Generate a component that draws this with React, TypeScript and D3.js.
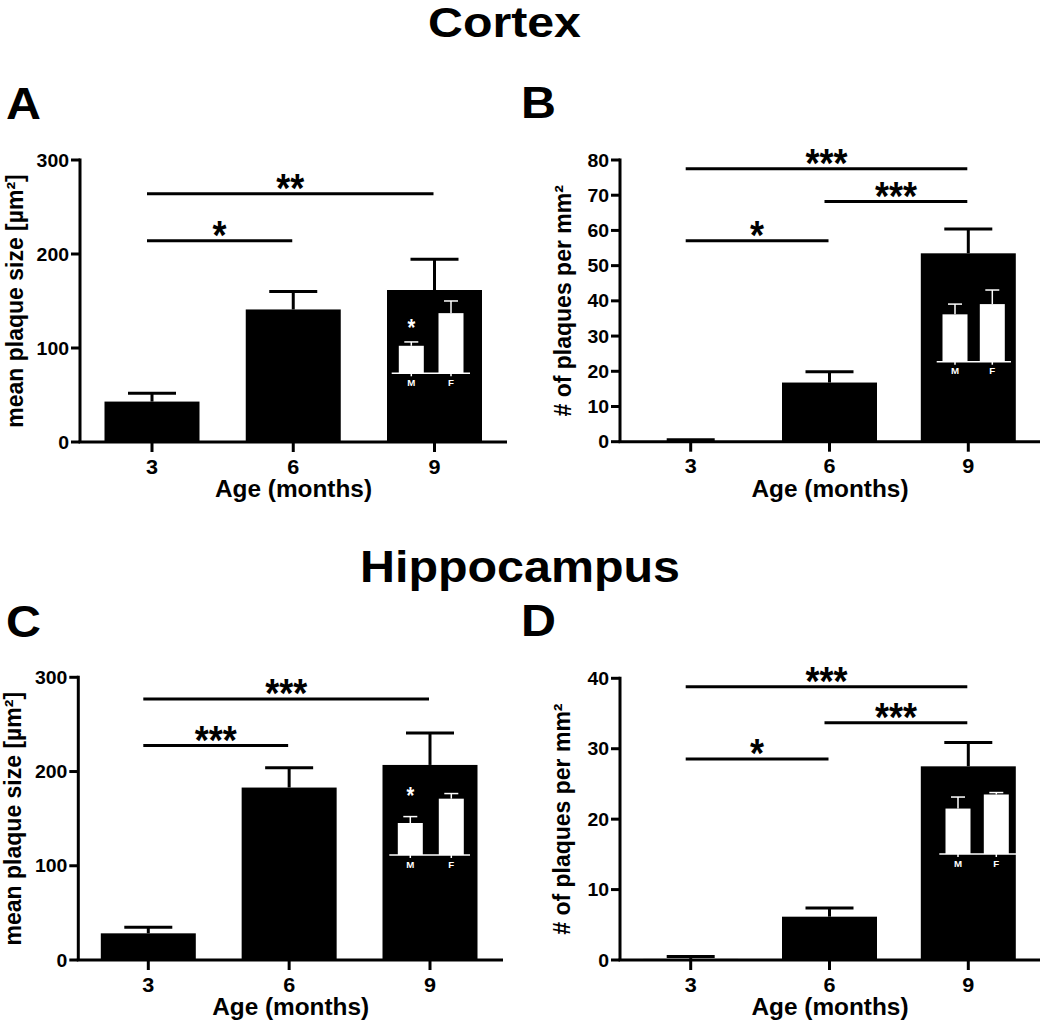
import React from 'react';
import * as d3 from 'd3';

// ---------- DATA ----------
const ages = ['3', '6', '9'];
const sexes = ['M', 'F'];

// Panel A: Cortex, mean plaque size [µm²]
const cortexSizeMean = [43, 141, 161.7];
const cortexSizeErr = [8.8, 19, 32.7];
const cortexSizeSig = [
  { from: '3', to: '6', level: 214, label: '*' },
  { from: '3', to: '9', level: 264, label: '**' },
];
const cortexSizeSexMean = [43, 94]; // relative units (inset has no axis)
const cortexSizeSexErr = [6, 19];
const cortexSizeSexStar = 75;

// Panel B: Cortex, # of plaques per mm²
const cortexCountMean = [0.2, 16.8, 53.5];
const cortexCountErr = [0.35, 3.1, 6.9];
const cortexCountSig = [
  { from: '3', to: '6', level: 57.1, label: '*' },
  { from: '6', to: '9', level: 68.2, label: '***' },
  { from: '3', to: '9', level: 77.5, label: '***' },
];
const cortexCountSexMean = [74, 90];
const cortexCountSexErr = [16, 22];

// Panel C: Hippocampus, mean plaque size [µm²]
const hippoSizeMean = [28.3, 183, 207];
const hippoSizeErr = [6.4, 21, 34];
const hippoSizeSig = [
  { from: '3', to: '6', level: 227.5, label: '***' },
  { from: '3', to: '9', level: 277, label: '***' },
];
const hippoSizeSexMean = [50, 88];
const hippoSizeSexErr = [10, 8];
const hippoSizeSexStar = 97;

// Panel D: Hippocampus, # of plaques per mm²
const hippoCountMean = [0.15, 6.15, 27.5];
const hippoCountErr = [0.35, 1.25, 3.4];
const hippoCountSig = [
  { from: '3', to: '6', level: 28.55, label: '*' },
  { from: '6', to: '9', level: 33.7, label: '***' },
  { from: '3', to: '9', level: 38.8, label: '***' },
];
const hippoCountSexMean = [71, 93];
const hippoCountSexErr = [18, 3];

const sizeTicks = [0, 100, 200, 300];
const cortexCountTicks = [0, 10, 20, 30, 40, 50, 60, 70, 80];
const hippoCountTicks = [0, 10, 20, 30, 40];

// ---------- LAYOUT ----------
const FONT = "'Liberation Sans', Arial, Helvetica, sans-serif";
const SX = 1.08;

type Sig = { from: string; to: string; level: number; label: string };

type PanelCfg = {
  letter: string; letterX: number; letterY: number;
  axisX: number; yBottom: number; yTop: number; xEnd: number;
  xRange: [number, number]; yMax: number; ticks: number[];
  yTitle: string; yTitleX: number;
  mean: number[]; err: number[]; sig: Sig[];
  inset: { lineX: [number, number]; centers: [number, number]; base: number;
    mean: number[]; err: number[]; star?: number };
};

const panels: PanelCfg[] = [
  {
    letter: 'A', letterX: 6, letterY: 119,
    axisX: 80, yBottom: 442, yTop: 160, xEnd: 507, xRange: [152, 434.5], yMax: 300, ticks: sizeTicks,
    yTitle: 'mean plaque size [µm²]', yTitleX: 23,
    mean: cortexSizeMean, err: cortexSizeErr, sig: cortexSizeSig,
    inset: { lineX: [391.7, 470], centers: [411.3, 451], base: 373.3,
      mean: cortexSizeSexMean, err: cortexSizeSexErr, star: cortexSizeSexStar },
  },
  {
    letter: 'B', letterX: 521, letterY: 118,
    axisX: 620, yBottom: 441.7, yTop: 160, xEnd: 1040, xRange: [690.7, 968.3], yMax: 80, ticks: cortexCountTicks,
    yTitle: '# of plaques per mm²', yTitleX: 571,
    mean: cortexCountMean, err: cortexCountErr, sig: cortexCountSig,
    inset: { lineX: [936.7, 1011], centers: [955, 992.3], base: 361.7,
      mean: cortexCountSexMean, err: cortexCountSexErr },
  },
  {
    letter: 'C', letterX: 6, letterY: 637,
    axisX: 78.3, yBottom: 960, yTop: 677.3, xEnd: 503, xRange: [148.3, 430], yMax: 300, ticks: sizeTicks,
    yTitle: 'mean plaque size [µm²]', yTitleX: 21,
    mean: hippoSizeMean, err: hippoSizeErr, sig: hippoSizeSig,
    inset: { lineX: [389.3, 470], centers: [410.3, 451.3], base: 855,
      mean: hippoSizeSexMean, err: hippoSizeSexErr, star: hippoSizeSexStar },
  },
  {
    letter: 'D', letterX: 521, letterY: 636,
    axisX: 620, yBottom: 960, yTop: 678.3, xEnd: 1040, xRange: [690.7, 968.3], yMax: 40, ticks: hippoCountTicks,
    yTitle: '# of plaques per mm²', yTitleX: 570,
    mean: hippoCountMean, err: hippoCountErr, sig: hippoCountSig,
    inset: { lineX: [939.3, 1016], centers: [958, 996.3], base: 854,
      mean: hippoCountSexMean, err: hippoCountSexErr },
  },
];

function T({ x, y, size, anchor = 'middle', fill = '#000', sx = SX, sy = 1, children }: any) {
  return (
    <text transform={`translate(${x},${y}) scale(${sx},${sy})`} fontSize={size} textAnchor={anchor}
      fill={fill} fontWeight="bold" fontFamily={FONT}>{children}</text>
  );
}

function Panel({ p }: { p: PanelCfg }) {
  const x = d3.scalePoint<string>().domain(ages).range(p.xRange);
  const y = d3.scaleLinear().domain([0, p.yMax]).range([p.yBottom, p.yTop]);
  const barW = 95;
  const capHalf = 24;
  const ix = d3.scalePoint<string>().domain(sexes).range(p.inset.centers);
  const iy = d3.scaleLinear().domain([0, 100]).range([p.inset.base, p.inset.base - 64]);
  const iBarW = 25;
  const iCap = 7;
  const xMid = (p.axisX + p.xEnd) / 2;
  return (
    <g>
      <T x={p.letterX} y={p.letterY} size={44} anchor="start" sx={1.1}>{p.letter}</T>
      {/* bars */}
      {ages.map((a, i) => {
        const cx = x(a)!;
        const top = y(p.mean[i]);
        const et = y(p.mean[i] + p.err[i]);
        return (
          <g key={a}>
            <rect x={cx - barW / 2} y={top} width={barW} height={p.yBottom - top} fill="#000" />
            <line x1={cx} x2={cx} y1={top} y2={et} stroke="#000" strokeWidth={3} />
            <line x1={cx - capHalf} x2={cx + capHalf} y1={et} y2={et} stroke="#000" strokeWidth={3} />
          </g>
        );
      })}
      {/* inset */}
      <line x1={p.inset.lineX[0]} x2={p.inset.lineX[1]} y1={p.inset.base} y2={p.inset.base}
        stroke="#fff" strokeWidth={1.5} />
      {sexes.map((s, i) => {
        const cx = ix(s)!;
        const top = iy(p.inset.mean[i]);
        const et = iy(p.inset.mean[i] + p.inset.err[i]);
        return (
          <g key={s}>
            <rect x={cx - iBarW / 2} y={top} width={iBarW} height={p.inset.base - top} fill="#fff" />
            <line x1={cx} x2={cx} y1={top} y2={et} stroke="#fff" strokeWidth={1.5} />
            <line x1={cx - iCap} x2={cx + iCap} y1={et} y2={et} stroke="#fff" strokeWidth={1.5} />
            <line x1={cx} x2={cx} y1={p.inset.base} y2={p.inset.base + 3} stroke="#fff" strokeWidth={1.5} />
            <T x={cx} y={p.inset.base + 12.5} size={9} fill="#fff">{s}</T>
          </g>
        );
      })}
      {p.inset.star !== undefined && (
        <T x={ix('M')!} y={iy(p.inset.star) + 11} size={20} sx={1} sy={1.2} fill="#fff">*</T>
      )}
      {/* axes */}
      <line x1={p.axisX} x2={p.axisX} y1={p.yTop - 1.5} y2={p.yBottom} stroke="#000" strokeWidth={3} />
      <line x1={p.axisX - 1.5} x2={p.xEnd} y1={p.yBottom} y2={p.yBottom} stroke="#000" strokeWidth={3} />
      {p.ticks.map((t) => (
        <g key={t}>
          <line x1={p.axisX - 9} x2={p.axisX} y1={y(t)} y2={y(t)} stroke="#000" strokeWidth={3} />
          <T x={p.axisX - 11} y={y(t) + 6.5} size={18} anchor="end">{t}</T>
        </g>
      ))}
      {ages.map((a) => (
        <g key={a}>
          <line x1={x(a)!} x2={x(a)!} y1={p.yBottom} y2={p.yBottom + 10} stroke="#000" strokeWidth={3} />
          <T x={x(a)!} y={p.yBottom + 31.5} size={20}>{a}</T>
        </g>
      ))}
      <T x={xMid} y={p.yBottom + 55} size={23} sx={1.06}>Age (months)</T>
      <text transform={`translate(${p.yTitleX},${(p.yTop + p.yBottom) / 2}) rotate(-90)`}
        fontSize={23} fontWeight="bold" fontFamily={FONT} textAnchor="middle">{p.yTitle}</text>
      {/* significance */}
      {p.sig.map((s, i) => {
        const x1 = x(s.from)! - 5;
        const x2 = x(s.to)! - 1;
        const yy = y(s.level);
        return (
          <g key={i}>
            <line x1={x1} x2={x2} y1={yy} y2={yy} stroke="#000" strokeWidth={3} />
            <T x={(x1 + x2) / 2} y={yy + 8} size={36} sx={1.0} sy={1.15}>{s.label}</T>
          </g>
        );
      })}
    </g>
  );
}

export default function App() {
  return (
    <svg width={1050} height={1022} style={{ position: 'absolute', left: 0, top: 0, background: '#fff' }}>
      <rect width={1050} height={1022} fill="#fff" />
      <T x={504.5} y={37} size={42} sx={1.15}>Cortex</T>
      <T x={520} y={582} size={44} sx={1.1}>Hippocampus</T>
      {panels.map((p) => <Panel key={p.letter} p={p} />)}
    </svg>
  );
}
